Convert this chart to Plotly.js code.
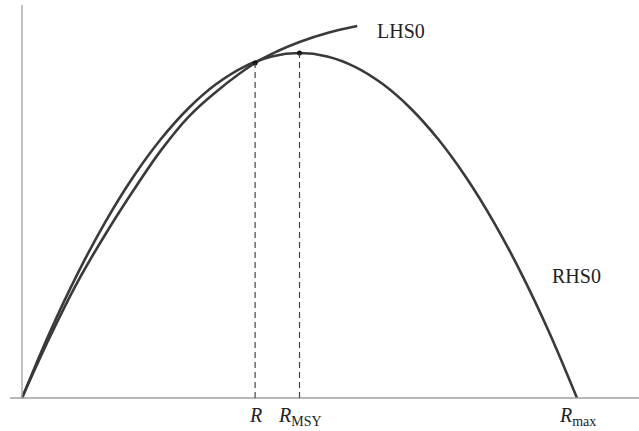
<!DOCTYPE html>
<html>
<head>
<meta charset="utf-8">
<script src="https://cdn.plot.ly/plotly-3.0.1.min.js"></script>
<style>html,body{margin:0;padding:0;background:#fff;}#chart{width:639px;height:431px;}</style>
</head>
<body>
<div id="chart"></div>
<script>
// Data (x in units of R_max, y in units of peak RHS)
const rhsX = [0, 0.05, 0.1, 0.15, 0.2, 0.25, 0.3, 0.35, 0.4, 0.45, 0.5, 0.55, 0.6, 0.65, 0.7, 0.75, 0.8, 0.85, 0.9, 0.95, 1.0];
const rhsY = [0, 0.19, 0.36, 0.51, 0.64, 0.75, 0.84, 0.91, 0.96, 0.99, 1.0, 0.99, 0.96, 0.91, 0.84, 0.75, 0.64, 0.51, 0.36, 0.19, 0];
const lhsX = [0, 0.05, 0.1, 0.15, 0.2, 0.25, 0.3, 0.35, 0.42, 0.46, 0.5, 0.55, 0.604];
const lhsY = [0, 0.176, 0.336, 0.474, 0.600, 0.717, 0.815, 0.888, 0.971, 1.005, 1.032, 1.058, 1.078];
const markX = [0.42, 0.5];
const markY = [0.971, 1.0];
const tickLabels = ['<i>R</i>', '<i>R</i><sub>MSY</sub>', '<i>R</i><sub>max</sub>'];
const tickX = [0.42, 0.5, 1.0];
const curveNames = ['LHS0', 'RHS0'];

const lineColor = '#3a3a3a';
const serif = 'Liberation Serif, Times New Roman, serif';

const traces = [
  {x: rhsX, y: rhsY, mode: 'lines', line: {color: lineColor, width: 2.6, shape: 'spline', smoothing: 1}, hoverinfo: 'skip'},
  {x: lhsX, y: lhsY, mode: 'lines', line: {color: lineColor, width: 2.6, shape: 'spline', smoothing: 1}, hoverinfo: 'skip'},
  {x: markX, y: markY, mode: 'markers', marker: {color: '#111', size: 5}, hoverinfo: 'skip'}
];

const shapes = [
  {type: 'line', xref: 'x', yref: 'y', x0: -0.0216, x1: 1.1117, y0: 0, y1: 0, line: {color: '#a0a0a0', width: 1.3}},
  {type: 'line', xref: 'x', yref: 'y', x0: 0, x1: 0, y0: 0, y1: 1.139, line: {color: '#a0a0a0', width: 1.3}}
];
markX.forEach((mx, i) => {
  shapes.push({type: 'line', xref: 'x', yref: 'y', x0: mx, x1: mx, y0: 0, y1: markY[i],
    line: {color: '#444', width: 1.2, dash: '6px,4px'}});
});

const annotations = tickX.map((tx, i) => ({
  x: tx, y: 0, xref: 'x', yref: 'y', text: tickLabels[i], showarrow: false,
  xanchor: 'center', yanchor: 'top', yshift: -4,
  font: {family: serif, size: 20, color: '#222'}
}));
annotations.push({x: lhsX[lhsX.length - 1], y: lhsY[lhsY.length - 1], xref: 'x', yref: 'y',
  text: curveNames[0], showarrow: false, xanchor: 'left', yanchor: 'middle', xshift: 18, yshift: -5,
  font: {family: serif, size: 20, color: '#222'}});
annotations.push({x: 0.952, y: 0.355, xref: 'x', yref: 'y',
  text: curveNames[1], showarrow: false, xanchor: 'left', yanchor: 'middle',
  font: {family: serif, size: 20, color: '#222'}});

const layout = {
  width: 639, height: 431,
  margin: {l: 0, r: 0, t: 0, b: 0},
  paper_bgcolor: '#fff', plot_bgcolor: '#fff',
  showlegend: false,
  xaxis: {range: [-0.03964, 1.11171], visible: false, fixedrange: true},
  yaxis: {range: [-0.09565, 1.15362], visible: false, fixedrange: true},
  shapes: shapes,
  annotations: annotations
};

Plotly.newPlot('chart', traces, layout, {staticPlot: true, displayModeBar: false});
</script>
</body>
</html>
